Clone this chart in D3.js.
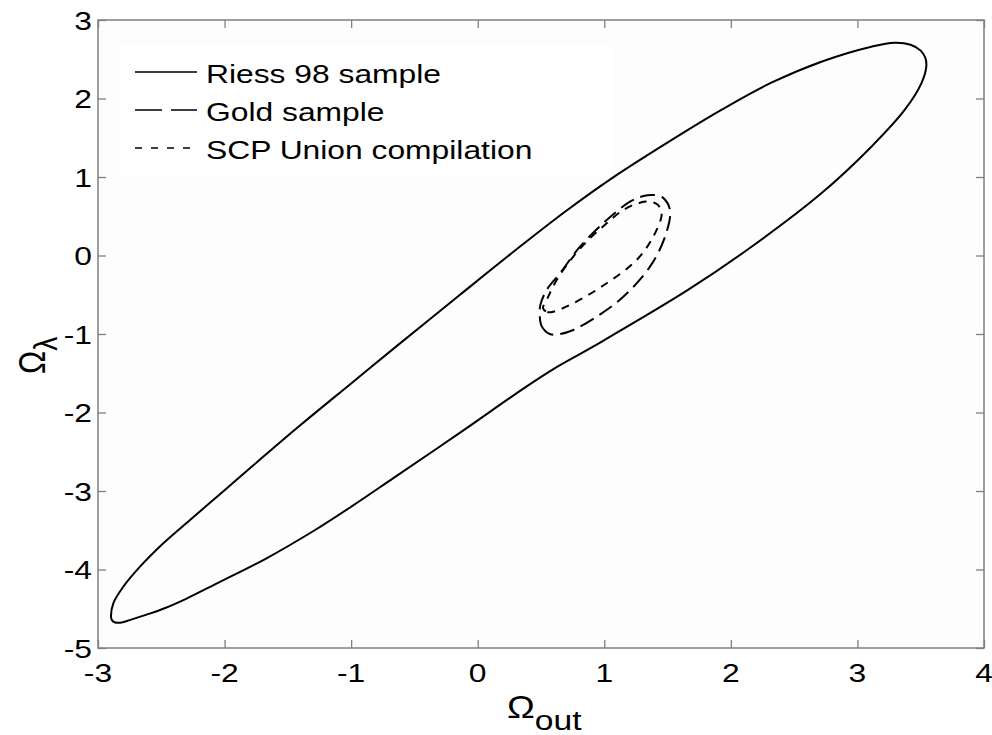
<!DOCTYPE html>
<html>
<head>
<meta charset="utf-8">
<script src="https://cdn.jsdelivr.net/npm/d3@7"></script>
<style>
html,body{margin:0;padding:0;background:#fff;}
svg text{font-family:"Liberation Sans",Arial,sans-serif;fill:#000;}
</style>
</head>
<body>
<svg id="chart" width="992" height="735"></svg>
<script>
// ---- data ----
const xTicks = [-3, -2, -1, 0, 1, 2, 3, 4];
const yTicks = [-5, -4, -3, -2, -1, 0, 1, 2, 3];
const xTickLabels = ["-3", "-2", "-1", "0", "1", "2", "3", "4"];
const yTickLabels = ["-5", "-4", "-3", "-2", "-1", "0", "1", "2", "3"];

const seriesNames = ["Riess 98 sample", "Gold sample", "SCP Union compilation"];

// Riess 98 contour (closed)
const riessX = [-2.897, -2.879, -2.800, -2.668, -2.484, -2.273, -2.00, -1.80, -1.40, -1.00, -0.66, -0.14, 0.30, 0.70, 1.056, 1.661, 1.925, 2.320, 2.715, 3.110, 3.294, 3.420, 3.500, 3.536, 3.544, 3.505, 3.373, 3.110, 2.715, 2.188, 1.661, 0.911, 0.595, 0.384, -0.142, -0.661, -0.999, -1.288, -1.683, -2.052, -2.300, -2.484, -2.616, -2.750, -2.826, -2.870, -2.890];
const riessY = [-4.601, -4.431, -4.219, -3.964, -3.666, -3.369, -2.99, -2.71, -2.16, -1.63, -1.18, -0.50, 0.07, 0.57, 0.98, 1.600, 1.855, 2.201, 2.469, 2.660, 2.711, 2.685, 2.610, 2.520, 2.406, 2.193, 1.854, 1.386, 0.792, 0.140, -0.439, -1.161, -1.450, -1.670, -2.260, -2.830, -3.200, -3.500, -3.870, -4.170, -4.370, -4.500, -4.575, -4.645, -4.677, -4.672, -4.645];

// Gold sample contour (closed)
const goldX = [0.490, 0.505, 0.569, 0.650, 0.755, 0.940, 1.150, 1.361, 1.480, 1.519, 1.460, 1.387, 1.309, 1.203, 1.019, 0.808, 0.650, 0.545, 0.495];
const goldY = [-0.760, -0.900, -1.000, -1.000, -0.949, -0.779, -0.525, -0.142, 0.240, 0.580, 0.740, 0.771, 0.758, 0.685, 0.452, 0.112, -0.227, -0.439, -0.630];

// SCP Union contour (closed)
const scpX = [0.516, 0.550, 0.597, 0.755, 1.019, 1.256, 1.387, 1.454, 1.420, 1.360, 1.282, 1.150, 1.019, 0.887, 0.755, 0.624, 0.550];
const scpY = [-0.673, -0.720, -0.716, -0.609, -0.354, -0.057, 0.240, 0.538, 0.650, 0.685, 0.673, 0.580, 0.410, 0.219, -0.015, -0.312, -0.550];

// ---- layout ----
const svg = d3.select("#chart");
const L = 98, R = 984, T = 20, B = 648;
const x = d3.scaleLinear().domain([-3, 4]).range([L, R]);
const y = d3.scaleLinear().domain([-5, 3]).range([B, T]);
const SX = 1.2; // horizontal stretch of text in the reference
const FS = 26.5;
const axisColor = "#7f7f7f";

svg.append("rect").attr("x", L).attr("y", T).attr("width", R - L).attr("height", B - T).attr("fill", "#fdfdfd");

// legend box
svg.append("rect").attr("x", 119).attr("y", 45).attr("width", 493).attr("height", 132).attr("fill", "#ffffff");

// axes with inward ticks
function styleAxis(g) {
  g.selectAll("path.domain").remove();
  g.selectAll("line").attr("stroke", axisColor).attr("stroke-width", 1.3);
  g.selectAll("text").remove();
}
svg.append("g").attr("transform", `translate(0,${B})`)
  .call(d3.axisBottom(x).tickValues(xTicks).tickSize(-8).tickSizeOuter(0)).call(styleAxis);
svg.append("g").attr("transform", `translate(0,${T})`)
  .call(d3.axisTop(x).tickValues(xTicks).tickSize(-8).tickSizeOuter(0)).call(styleAxis);
svg.append("g").attr("transform", `translate(${L},0)`)
  .call(d3.axisLeft(y).tickValues(yTicks).tickSize(-8).tickSizeOuter(0)).call(styleAxis);
svg.append("g").attr("transform", `translate(${R},0)`)
  .call(d3.axisRight(y).tickValues(yTicks).tickSize(-8).tickSizeOuter(0)).call(styleAxis);

svg.append("rect").attr("x", L).attr("y", T).attr("width", R - L).attr("height", B - T)
  .attr("fill", "none").attr("stroke", axisColor).attr("stroke-width", 1.5);

// tick labels
xTicks.forEach((v, i) => {
  svg.append("text").attr("transform", `translate(${x(v)},682) scale(${SX},1)`)
    .attr("text-anchor", "middle").attr("font-size", FS).text(xTickLabels[i]);
});
yTicks.forEach((v, i) => {
  svg.append("text").attr("transform", `translate(92,${y(v) + 9.5}) scale(${SX},1)`)
    .attr("text-anchor", "end").attr("font-size", FS).text(yTickLabels[i]);
});

// axis titles
const xt = svg.append("text").attr("transform", `translate(507,718) scale(${SX},1)`).attr("font-size", 31);
xt.append("tspan").text("Ω");
xt.append("tspan").attr("dy", 12).attr("font-size", 28).text("out");
const yt = svg.append("text").attr("transform", `translate(45,374) scale(${SX},1) rotate(-90)`).attr("font-size", 31);
yt.append("tspan").text("Ω");
yt.append("tspan").attr("dy", 10).attr("font-size", 28).text("λ");

// contours
const line = d3.line().x(d => x(d[0])).y(d => y(d[1])).curve(d3.curveCatmullRomClosed.alpha(0.5));
const styles = [
  {dash: null, xs: riessX, ys: riessY},
  {dash: "15,7", xs: goldX, ys: goldY},
  {dash: "8,7", xs: scpX, ys: scpY}
];
styles.forEach(s => {
  const pts = s.xs.map((v, i) => [v, s.ys[i]]);
  svg.append("path").attr("d", line(pts)).attr("fill", "none").attr("stroke", "#000")
    .attr("stroke-width", 2).attr("stroke-dasharray", s.dash);
});

// legend
const legendDash = [null, "27,9", "7,9"];
seriesNames.forEach((name, i) => {
  const ly = 72 + i * 38;
  svg.append("line").attr("x1", 135).attr("x2", 197).attr("y1", ly).attr("y2", ly)
    .attr("stroke", "#000").attr("stroke-width", 1.6).attr("stroke-dasharray", legendDash[i]);
  svg.append("text").attr("transform", `translate(206,${ly + 11}) scale(${SX},1)`)
    .attr("font-size", FS).text(name);
});
</script>
</body>
</html>
